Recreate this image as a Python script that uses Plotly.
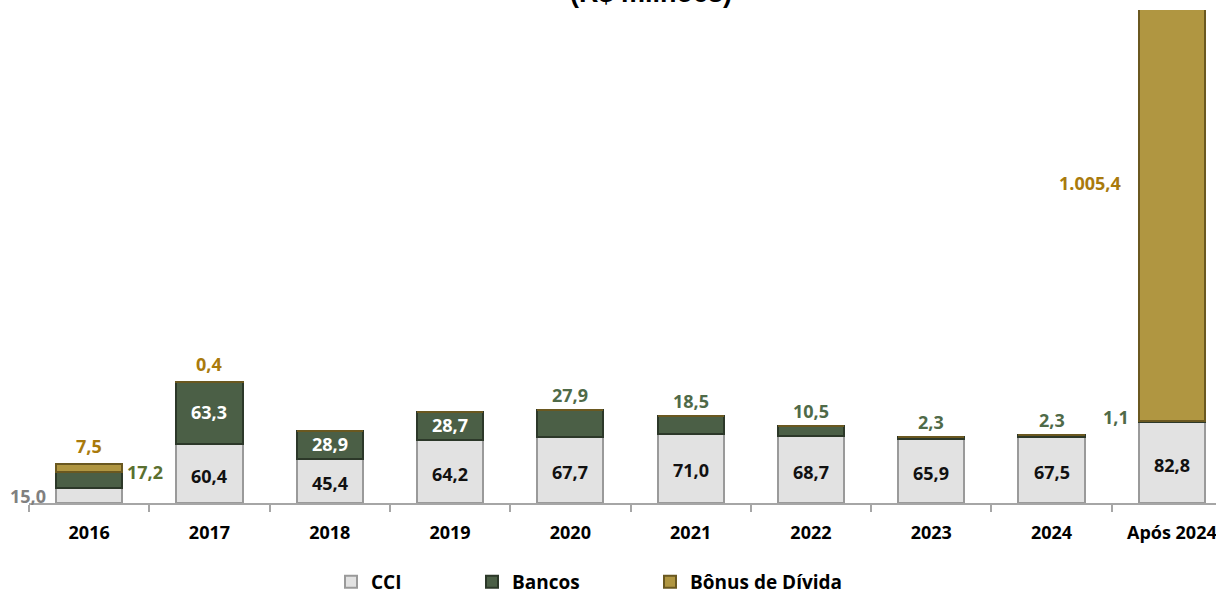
import plotly.graph_objects as go

# ---- data ----
categories = ['2016', '2017', '2018', '2019', '2020', '2021', '2022', '2023', '2024', 'Após 2024']
cci = [15.0, 60.4, 45.4, 64.2, 67.7, 71.0, 68.7, 65.9, 67.5, 82.8]
bancos = [17.2, 63.3, 28.9, 28.7, 27.9, 18.5, 10.5, 2.3, 2.3, 1.1]
bonus = [7.5, 0.4, 0, 0, 0, 0, 0, 0, 0, 1005.4]

# label placement modes (style, not data)
cci_mode = ['left', 'in', 'in', 'in', 'in', 'in', 'in', 'in', 'in', 'in']
bancos_mode = ['right', 'in', 'in', 'in', 'top', 'top', 'top', 'top', 'top', 'left']
bonus_mode = ['top', 'top', None, None, None, None, None, None, None, 'far']

FONT = 'Open Sans'
C_CCI, C_CCI_LINE = '#e2e2e2', '#9a9a9a'
C_BAN, C_BAN_LINE = '#4b5f46', '#2c3829'
C_BON, C_BON_LINE = '#b09641', '#6a5820'

ML, PW = 29, 1187  # left margin, plot width (px)
MT, MB, H = 10, 93, 596
PH = H - MT - MB


def fmt(v):
    s = f"{v:,.1f}"
    return s.replace(',', 'X').replace('.', ',').replace('X', '.')


def px2paper(px):
    return (px - ML) / PW


def py2paper(py):
    return (H - MB - py) / PH


fig = go.Figure()
fig.add_trace(go.Bar(name='CCI', x=categories, y=cci, width=0.55, legend='legend',
                     marker=dict(color=C_CCI, line=dict(color=C_CCI_LINE, width=2))))
fig.add_trace(go.Bar(name='Bancos', x=categories, y=bancos, width=0.55, legend='legend2',
                     marker=dict(color=C_BAN, line=dict(color=C_BAN_LINE, width=2))))
fig.add_trace(go.Bar(name='Bônus de Dívida', x=categories, y=bonus, width=0.55, legend='legend3',
                     marker=dict(color=C_BON, line=dict(color=C_BON_LINE, width=2))))

ann = []


def lab_font(c):
    return dict(family=FONT, size=18, color=c, weight='bold')


HALF = 33  # half bar width in px

for i, c in enumerate(categories):
    # CCI
    m = cci_mode[i]
    if m == 'in':
        ann.append(dict(x=i, y=cci[i] / 2, text=fmt(cci[i]), showarrow=False,
                        font=lab_font('#111111'), yshift=-2))
    elif m == 'left':
        ann.append(dict(x=i, y=cci[i] / 2, text=fmt(cci[i]), showarrow=False,
                        xanchor='right', xshift=-(HALF + 8), font=lab_font('#808080')))
    # Bancos
    top_b = cci[i] + bancos[i]
    m = bancos_mode[i]
    if m == 'in':
        ann.append(dict(x=i, y=cci[i] + bancos[i] / 2, text=fmt(bancos[i]), showarrow=False,
                        font=lab_font('white'), yshift=1))
    elif m == 'right':
        ann.append(dict(x=i, y=top_b, text=fmt(bancos[i]), showarrow=False,
                        xanchor='left', xshift=HALF + 3, font=lab_font('#5a7030')))
    elif m == 'top':
        ann.append(dict(x=i, y=top_b, text=fmt(bancos[i]), showarrow=False,
                        yanchor='bottom', yshift=1, font=lab_font('#4f6a48')))
    elif m == 'left':
        ann.append(dict(x=i, y=top_b, text=fmt(bancos[i]), showarrow=False,
                        xanchor='right', xshift=-(HALF + 8), yshift=4, font=lab_font('#4f6a48')))
    # Bonus
    top_t = top_b + bonus[i]
    m = bonus_mode[i]
    if m == 'top':
        ann.append(dict(x=i, y=top_t, text=fmt(bonus[i]), showarrow=False,
                        yanchor='bottom', yshift=4, font=lab_font('#a97a0c')))
    elif m == 'far':
        ann.append(dict(x=i, y=py2paper(183), yref='paper', text=fmt(bonus[i]), showarrow=False,
                        xanchor='right', xshift=-(HALF + 16), font=lab_font('#a97a0c')))

# partially visible title at the very top
ann.append(dict(xref='paper', yref='paper', x=px2paper(651), y=py2paper(-7),
                text='(R$ milhões)', showarrow=False, yanchor='middle',
                font=dict(family='Liberation Sans', size=27, color='black', weight='bold')))

leg_common = dict(orientation='h', xanchor='left', y=py2paper(582), yanchor='middle',
                  font=dict(family=FONT, size=19, color='black', weight='bold'),
                  itemwidth=30, bgcolor='rgba(0,0,0,0)')

fig.update_layout(
    width=1216, height=H,
    margin=dict(l=ML, r=0, t=MT, b=MB, autoexpand=False),
    paper_bgcolor='white', plot_bgcolor='white',
    barmode='stack',
    annotations=ann,
    showlegend=True,
    legend=dict(x=px2paper(367 - 36), **leg_common),
    legend2=dict(x=px2paper(508 - 36), **leg_common),
    legend3=dict(x=px2paper(686 - 36), **leg_common),
    xaxis=dict(type='category', range=[-0.5, 9.367], showgrid=False, automargin=False,
               showline=True, linecolor='#a6a6a6', linewidth=2,
               ticks='outside', tickson='boundaries', ticklen=7, tickcolor='#a6a6a6', tickwidth=2,
               ticklabelstandoff=12,
               tickfont=dict(family=FONT, size=18, color='black', weight='bold')),
    yaxis=dict(range=[0, 506], visible=False, showgrid=False, zeroline=False, automargin=False),
)

fig.write_html('out.html', config={'displayModeBar': False},
               post_script="document.body.style.margin='0px';")
